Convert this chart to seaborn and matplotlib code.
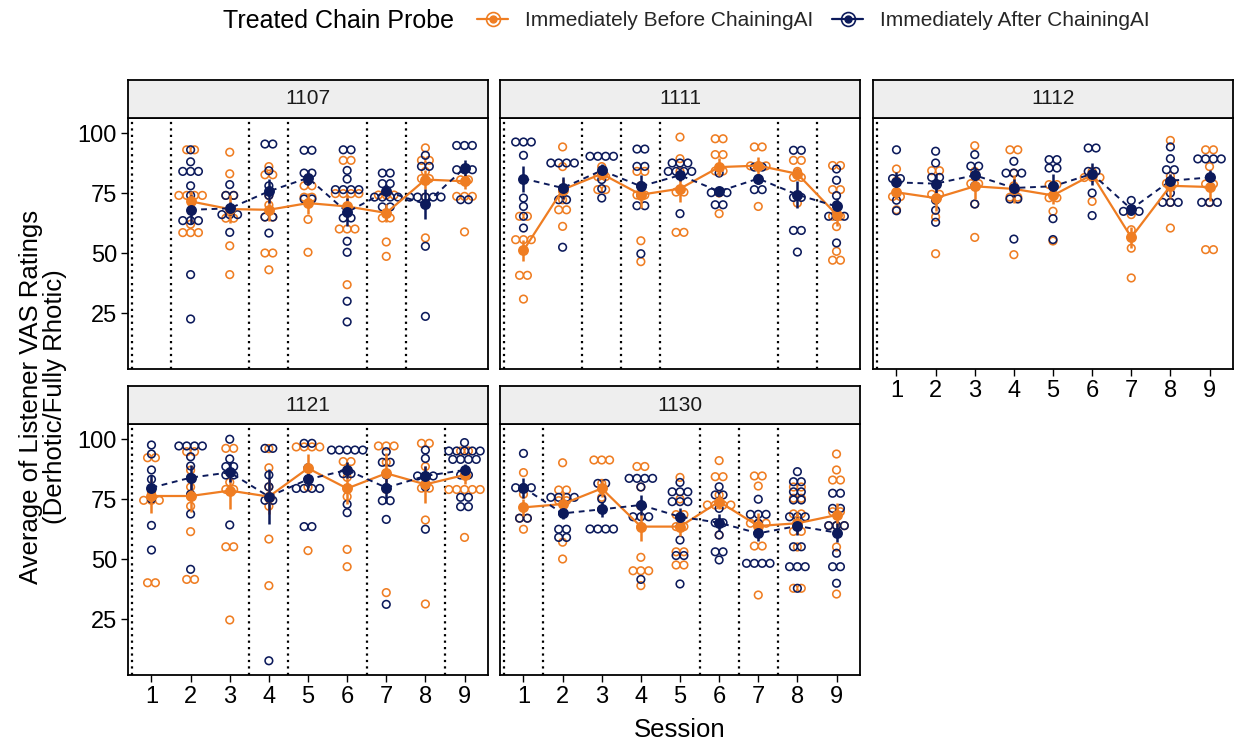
import numpy as np
import pandas as pd
import matplotlib
matplotlib.use("Agg")
import matplotlib.pyplot as plt
import seaborn as sns
from matplotlib.lines import Line2D

# ---------------- data ----------------
SESSIONS = [1, 2, 3, 4, 5, 6, 7, 8, 9]
PARTICIPANTS = ["1107", "1111", "1112", "1121", "1130"]
GROUP_BEFORE = "Immediately Before ChainingAI"
GROUP_AFTER = "Immediately After ChainingAI"
LEGEND_TITLE = "Treated Chain Probe"
Y_LABEL = "Average of Listener VAS Ratings\n(Derhotic/Fully Rhotic)"
X_LABEL = "Session"
Y_TICKS = [25, 50, 75, 100]

nan = np.nan

R_1107_BEFORE = [
    [],
    [93, 93, 74, 74, 74, 74, 62, 60, 57, 57],
    [92, 83, 74, 74, 66, 63, 53, 41],
    [86, 82.6, 82.6, 74, 70, 65, 65, 50, 50, 43],
    [78, 78, 74, 72.5, 64, 50.3],
    [88.6, 88.6, 76, 73.5, 73.5, 73.5, 60, 60, 60, 36.8],
    [75, 73.3, 73.3, 64.6, 64.6, 54.6, 48.6],
    [93.8, 88.6, 88.6, 84, 82, 80, 73.3, 56.3],
    [85, 82, 79, 75, 72.2, 72.2, 58.8],
]
R_1107_AFTER = [
    [],
    [93, 88, 84, 84, 84, 78, 74, 65, 65, 62, 41, 22.5],
    [78.5, 74, 74, 66, 66, 66, 58.6],
    [95.4, 95.4, 84.3, 78, 74, 65, 65, 58.3],
    [92.8, 92.8, 83.3, 83.3, 80, 72.5, 72.5],
    [93, 93, 84.4, 80.8, 76.4, 76.4, 76.4, 76.4, 64.6, 64.6, 54.9, 50.3, 29.9, 21.3],
    [83.3, 83.3, 78.9, 78.9, 73.3, 73.3, 73.3, 73.3, 69.2, 69.2],
    [90.7, 86.1, 86.1, 73.3, 73.3, 73.3, 73.3, 73.3, 52.8, 23.6],
    [96.1, 93.5, 93.5, 84.7, 84.7, 84.7, 72.2, 72.2],
]
MEAN_1107_BEFORE = [nan, 71.5, 68.3, 68.0, 70.8, 69.4, 66.7, 80.6, 79.9]
MEAN_1107_AFTER = [nan, 68.0, 68.6, 75.7, 81.3, 67.0, 75.7, 70.4, 85.4]

R_1111_BEFORE = [
    [65.3, 65.3, 56.9, 54.2, 54.2, 40.7, 40.7, 30.8],
    [94.2, 86, 76, 72.2, 68, 68, 61.1],
    [86, 83, 80.6, 76.4, 76.4],
    [84, 84, 78, 74.3, 74, 55.1, 46.4],
    [98.3, 89.3, 84, 76.8, 74, 58.6, 58.6],
    [97.6, 97.6, 91, 91, 85, 83.3, 75, 66.4],
    [94.2, 94.2, 86.8, 86.8, 85.8, 69.4],
    [88.6, 88.6, 84, 83, 80, 70.8],
    [87.9, 85, 76.4, 76.4, 66, 64.6, 61, 50.7, 47, 47],
]
R_1111_AFTER = [
    [96.25, 96.25, 96.25, 90.7, 72.9, 69.4, 65.3, 60.4],
    [88.9, 88.9, 86.1, 86.1, 77, 72.2, 72.2, 52.4],
    [90.3, 90.3, 90.3, 90.3, 80.6, 76.8, 72.9],
    [93.3, 93.3, 86.1, 86.1, 78, 74, 69.7, 69.7, 49.7],
    [87.5, 87.5, 87.5, 84, 84, 84, 84, 66.4],
    [83.3, 76, 74.3, 74.3, 70.1, 70.1],
    [85.8, 85.8, 81, 76.4, 76.4],
    [92.8, 92.8, 83, 74.3, 72, 59.4, 59.4, 50.4],
    [85, 80.3, 73.9, 70, 66, 64.6, 64.6, 54.2],
]
MEAN_1111_BEFORE = [51.1, 76.4, 83.0, 74.3, 76.8, 85.8, 86.4, 83.0, 66.0]
MEAN_1111_AFTER = [81.0, 77.1, 84.4, 77.8, 82.4, 75.7, 81.0, 74.3, 69.4]

R_1112_BEFORE = [
    [85, 80, 75, 72, 68],
    [84.3, 84.3, 76, 72.9, 65, 49.7],
    [94.7, 84, 80, 77.8, 70.4, 56.5],
    [93, 93, 83.3, 78, 74, 72.5, 49.3],
    [80, 77, 74, 72, 67.4, 55],
    [84, 83, 79.9, 79.9, 71.5],
    [66, 59.7, 56.5, 52, 39.6],
    [96.9, 82, 80, 78, 71.1, 60.4],
    [93, 93, 86, 80, 77.5, 71, 51.4, 51.4],
]
R_1112_AFTER = [
    [93, 82, 80, 72, 67.6],
    [92.4, 87.5, 81.5, 81.5, 72, 67.8, 62.8],
    [91, 86.4, 86, 82.4, 78, 70.4],
    [88.2, 83.3, 83.3, 83.3, 77, 72.5, 72.5, 55.8],
    [88.9, 88.9, 85.4, 85.4, 77.8, 64.3, 55.6],
    [93.75, 93.75, 84, 84, 75, 65.6],
    [71.9, 68.3, 66.4, 66.4],
    [94.2, 89.3, 84.7, 84.7, 80, 75, 71.1, 71.1, 71.1],
    [89.2, 89.2, 89.2, 89.2, 81.5, 71.1, 71.1, 71.1],
]
MEAN_1112_BEFORE = [75.3, 72.9, 77.8, 76.7, 74.0, 82.6, 56.5, 78.0, 77.5]
MEAN_1112_AFTER = [79.4, 78.9, 82.4, 77.1, 77.8, 83.0, 68.3, 80.1, 81.5]

R_1121_BEFORE = [
    [92.2, 92.2, 78, 76, 72.9, 72.9, 40.1, 40.1],
    [94.7, 94.7, 87, 80, 76, 72, 61.4, 41.5, 41.5],
    [96.1, 96.1, 86, 82, 80, 78, 55.1, 55.1, 24.6],
    [96, 88, 80, 76, 72, 58.3, 38.9],
    [98, 95.4, 95.4, 95.4, 87.8, 80, 53.5],
    [90.6, 90.6, 84, 79.4, 76, 54, 46.8],
    [97.1, 97.1, 97.1, 90.3, 85.7, 79, 36],
    [98.2, 98.2, 88.5, 84, 81, 78, 66.25, 31.25],
    [95, 95, 85, 80.1, 80.1, 80.1, 77.8, 77.8, 59],
]
R_1121_AFTER = [
    [97.5, 93.75, 87.1, 83.2, 79, 75, 64, 53.75],
    [97.1, 97.1, 97.1, 97.1, 92.6, 88.75, 84, 77, 68.75, 45.7],
    [99.9, 91.7, 88.5, 88.5, 86, 84, 64.2],
    [96.1, 96.1, 85, 80.1, 76, 72.9, 7.6],
    [98.2, 98.2, 88, 83.2, 79.4, 79.4, 79.4, 79.4, 63.5, 63.5],
    [95.4, 95.4, 95.4, 95.4, 95.4, 87.1, 84, 72.8, 69.3],
    [94.7, 90.3, 90.3, 85, 79.7, 74.3, 74.3, 66.5, 31.1],
    [95.4, 91.9, 84.6, 84.6, 84.6, 80, 62.4],
    [98.5, 95, 95, 95, 95, 95, 91.5, 91.5, 91.5, 91.5, 85, 85, 75.7, 75.7, 71.8, 71.8],
]
MEAN_1121_BEFORE = [76.25, 76.25, 78.5, 76.0, 87.8, 79.4, 85.7, 81.1, 85.0]
MEAN_1121_AFTER = [79.7, 83.9, 86.1, 76.0, 83.2, 87.1, 79.7, 84.6, 87.1]

R_1130_BEFORE = [
    [86, 77, 71.5, 67, 67, 62.4],
    [90.1, 78.75, 78.75, 75.7, 72.9, 57, 50],
    [91.25, 91.25, 91.25, 81.5, 75.7, 70.7],
    [90.1, 87, 80, 72, 63.5, 50.7, 45.1, 45.1, 45.1, 38.9],
    [84, 75, 70, 67, 63.5, 63.5, 53, 53, 47.5, 47.5],
    [91, 84.3, 84.3, 76.7, 73.9, 71.1, 71.1, 71.1, 60],
    [84.6, 84.6, 80.4, 64.9, 64.9, 64.9, 55.4, 55.4, 35],
    [80, 80, 76, 74.6, 70, 67.6, 63, 60, 55, 37.8, 37.8],
    [93.75, 87.1, 82.9, 82.9, 71.1, 68.3, 65, 62.8, 62.8, 55, 35.4],
]
R_1130_AFTER = [
    [94, 79.7, 79.7, 79.7, 67, 67],
    [75.7, 75.7, 75.7, 75.7, 69, 62.4, 62.4, 59, 59],
    [81.5, 81.5, 75, 70.7, 62.5, 62.5, 62.5, 62.5],
    [83.6, 83.6, 83.6, 83.6, 80, 72.5, 67.6, 67.6, 67.6, 41.5],
    [81.9, 78, 78, 78, 73.9, 73.9, 73.9, 67.6, 63.5, 57.9, 53, 49.9, 39.6],
    [80.1, 76.7, 76.7, 71.1, 65.1, 65.1, 60, 53, 53, 49.6],
    [74.9, 68.6, 68.6, 68.6, 64.9, 60.7, 48.2, 48.2, 48.2, 48.2],
    [86.4, 82.2, 82.2, 78, 78, 74.6, 74.6, 67.6, 67.6, 67.6, 63.75, 55.1, 55.1, 46.8, 46.8, 46.8, 37.8],
    [77.4, 77.4, 71.1, 71.1, 65, 62.8, 62.8, 52.4, 46.8, 46.8, 39.9],
]
MEAN_1130_BEFORE = [71.5, 72.9, 79.4, 63.5, 63.5, 73.9, 63.75, 64.9, 68.3]
MEAN_1130_AFTER = [79.7, 69.0, 70.7, 72.5, 67.6, 65.1, 60.7, 63.75, 61.0]

# phase-change boundaries (between sessions)
PHASE_1107 = [0.5, 1.5, 3.5, 4.5, 6.5, 7.5]
PHASE_1111 = [0.5, 2.5, 3.5, 4.5, 7.5, 8.5]
PHASE_1112 = [0.5]
PHASE_1121 = [0.5, 3.5, 4.5, 6.5, 8.5]
PHASE_1130 = [0.5, 1.5, 5.5, 6.5, 7.5]

RATINGS = {
    "1107": (R_1107_BEFORE, R_1107_AFTER),
    "1111": (R_1111_BEFORE, R_1111_AFTER),
    "1112": (R_1112_BEFORE, R_1112_AFTER),
    "1121": (R_1121_BEFORE, R_1121_AFTER),
    "1130": (R_1130_BEFORE, R_1130_AFTER),
}
MEANS = {
    "1107": (MEAN_1107_BEFORE, MEAN_1107_AFTER),
    "1111": (MEAN_1111_BEFORE, MEAN_1111_AFTER),
    "1112": (MEAN_1112_BEFORE, MEAN_1112_AFTER),
    "1121": (MEAN_1121_BEFORE, MEAN_1121_AFTER),
    "1130": (MEAN_1130_BEFORE, MEAN_1130_AFTER),
}
PHASES = {"1107": PHASE_1107, "1111": PHASE_1111, "1112": PHASE_1112,
          "1121": PHASE_1121, "1130": PHASE_1130}

# ---------------- style ----------------
ORANGE = "#EF7D22"
NAVY = "#0C1A5B"
STRIP_BG = "#EEEEEE"
BINWIDTH = 3.2      # y units per dot
STACK_STEP = 0.2    # x units between stacked dots

sns.set_theme(style="white")
plt.rcParams["font.family"] = ["Liberation Sans", "DejaVu Sans"]

W, H = 1236, 744
fig = plt.figure(figsize=(W / 100, H / 100), dpi=100)
fig.patch.set_facecolor("white")


def rect(left, top, w, h):
    return [left / W, 1 - (top + h) / H, w / W, h / H]


def dot_layout(values):
    """ggplot-like dot-density stacking: returns y (bin centre) and x offset."""
    v = np.sort(np.asarray(values, dtype=float))
    ys, xs = [], []
    i = 0
    while i < len(v):
        start = v[i]
        j = i
        while j < len(v) and v[j] < start + BINWIDTH:
            j += 1
        members = v[i:j]
        centre = (members.min() + members.max()) / 2
        n = len(members)
        for k in range(n):
            ys.append(centre)
            xs.append((k - (n - 1) / 2) * STACK_STEP)
        i = j
    return np.array(ys), np.array(xs)


def build_points(pid):
    rows = []
    for gname, series in zip((GROUP_BEFORE, GROUP_AFTER), RATINGS[pid]):
        for s, vals in zip(SESSIONS, series):
            if len(vals) == 0:
                continue
            ys, xs = dot_layout(vals)
            for y, dx in zip(ys, xs):
                rows.append({"group": gname, "session": s, "x": s + dx, "y": y})
    return pd.DataFrame(rows)


def build_summary(pid):
    rows = []
    for gname, series, means in zip((GROUP_BEFORE, GROUP_AFTER), RATINGS[pid], MEANS[pid]):
        for s, vals, m in zip(SESSIONS, series, means):
            if len(vals) < 2 or np.isnan(m):
                continue
            se = np.std(vals, ddof=1) / np.sqrt(len(vals))
            rows.append({"group": gname, "session": s, "mean": m, "se": se})
    return pd.DataFrame(rows)


LAYOUT = {"1107": (0, 0), "1111": (1, 0), "1112": (2, 0), "1121": (0, 1), "1130": (1, 1)}
COL_LEFT = [128, 500, 873]
ROW_TOP = [118, 424]
PW, PH, SH = 360, 251, 38
COLORS = {GROUP_BEFORE: ORANGE, GROUP_AFTER: NAVY}

for pid in PARTICIPANTS:
    c, r = LAYOUT[pid]
    ax = fig.add_axes(rect(COL_LEFT[c], ROW_TOP[r], PW, PH))
    ax.set_facecolor("white")

    for xv in PHASES[pid]:
        ax.axvline(xv, color="black", lw=1.6, ls=(0, (1, 1.9)), zorder=1)

    pts = build_points(pid)
    for g in (GROUP_BEFORE, GROUP_AFTER):
        sub = pts[pts["group"] == g]
        sns.scatterplot(data=sub, x="x", y="y", ax=ax, color=COLORS[g],
                        facecolor="none", edgecolor=COLORS[g], s=30,
                        linewidth=1.15, legend=False, zorder=2)

    summ = build_summary(pid)
    for g, ls, lw in ((GROUP_BEFORE, "-", 1.6), (GROUP_AFTER, (0, (3, 2.4)), 1.4)):
        sub = summ[summ["group"] == g]
        col = COLORS[g]
        ax.vlines(sub["session"], sub["mean"] - sub["se"], sub["mean"] + sub["se"],
                  color=col, lw=1.8, zorder=3)
        sns.lineplot(data=sub, x="session", y="mean", ax=ax, color=col,
                     lw=lw, linestyle=ls, sort=True, legend=False, zorder=3)
        ax.lines[-1].set_linestyle(ls)
        sns.scatterplot(data=sub, x="session", y="mean", ax=ax, color=col,
                        edgecolor=col, s=62, linewidth=0, legend=False, zorder=4)

    ax.set_xlim(0.4, 9.6)
    ax.set_ylim(1.67, 106.25)
    ax.set_xlabel("")
    ax.set_ylabel("")
    for sp in ax.spines.values():
        sp.set_visible(True)
        sp.set_color("black")
        sp.set_linewidth(1.3)
    ax.set_yticks(Y_TICKS)
    ax.set_xticks(SESSIONS)
    ax.tick_params(axis="both", which="both", direction="out", length=5,
                   width=1.0, color="black", labelsize=17, labelcolor="black", pad=3)
    show_y = c == 0
    show_x = (r == 1) or pid == "1112"
    ax.tick_params(axis="y", left=show_y, labelleft=show_y)
    ax.tick_params(axis="x", bottom=show_x, labelbottom=show_x)
    ax.set_yticklabels([str(t) for t in Y_TICKS])
    ax.set_xticklabels([str(s) for s in SESSIONS])
    ax.grid(False)

    sax = fig.add_axes(rect(COL_LEFT[c], ROW_TOP[r] - SH, PW, SH))
    sax.set_facecolor(STRIP_BG)
    sax.set_xticks([])
    sax.set_yticks([])
    for sp in sax.spines.values():
        sp.set_visible(True)
        sp.set_color("black")
        sp.set_linewidth(1.3)
    sax.text(0.5, 0.5, pid, ha="center", va="center", fontsize=15, color="#1a1a1a",
             transform=sax.transAxes)

# axis titles
fig.text(43 / W, 1 - 397 / H, Y_LABEL, rotation=90, ha="center", va="center",
         fontsize=18.5, linespacing=1.05, color="black")
fig.text(680 / W, 1 - 730 / H, X_LABEL, ha="center", va="center", fontsize=18.5,
         color="black")

# legend
fig.text(223 / W, 1 - 21 / H, LEGEND_TITLE, ha="left", va="center", fontsize=18,
         color="black")
handles = []
for col in (ORANGE, NAVY):
    h1 = Line2D([], [], color=col, lw=1.6, marker="o", markersize=5,
                markerfacecolor=col, markeredgecolor=col)
    h2 = Line2D([], [], color=col, lw=0, marker="o", markersize=10,
                markerfacecolor="none", markeredgecolor=col, markeredgewidth=1.2)
    handles.append((h1, h2))
fig.legend(handles, [GROUP_BEFORE, GROUP_AFTER], loc="center left",
           bbox_to_anchor=(477 / W, 1 - 21 / H), ncol=2, frameon=False,
           fontsize=15, handlelength=1.5, handletextpad=0.8, columnspacing=0.9,
           borderpad=0, borderaxespad=0)

fig.savefig("out.png", dpi=100, facecolor="white")
